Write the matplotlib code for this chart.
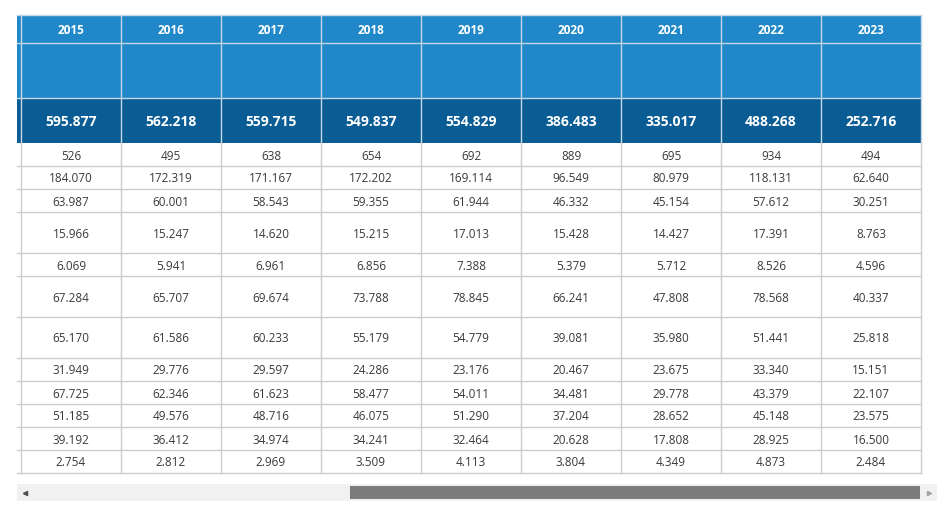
import matplotlib
matplotlib.use('Agg')
import matplotlib.pyplot as plt
from matplotlib.patches import Rectangle

plt.rcParams['font.family'] = ['Open Sans', 'DejaVu Sans']

years = ['2015', '2016', '2017', '2018', '2019', '2020', '2021', '2022', '2023']
totals = ['595.877', '562.218', '559.715', '549.837', '554.829', '386.483', '335.017', '488.268', '252.716']

row01 = ['526', '495', '638', '654', '692', '889', '695', '934', '494']
row02 = ['184.070', '172.319', '171.167', '172.202', '169.114', '96.549', '80.979', '118.131', '62.640']
row03 = ['63.987', '60.001', '58.543', '59.355', '61.944', '46.332', '45.154', '57.612', '30.251']
row04 = ['15.966', '15.247', '14.620', '15.215', '17.013', '15.428', '14.427', '17.391', '8.763']
row05 = ['6.069', '5.941', '6.961', '6.856', '7.388', '5.379', '5.712', '8.526', '4.596']
row06 = ['67.284', '65.707', '69.674', '73.788', '78.845', '66.241', '47.808', '78.568', '40.337']
row07 = ['65.170', '61.586', '60.233', '55.179', '54.779', '39.081', '35.980', '51.441', '25.818']
row08 = ['31.949', '29.776', '29.597', '24.286', '23.176', '20.467', '23.675', '33.340', '15.151']
row09 = ['67.725', '62.346', '61.623', '58.477', '54.011', '34.481', '29.778', '43.379', '22.107']
row10 = ['51.185', '49.576', '48.716', '46.075', '51.290', '37.204', '28.652', '45.148', '23.575']
row11 = ['39.192', '36.412', '34.974', '34.241', '32.464', '20.628', '17.808', '28.925', '16.500']
row12 = ['2.754', '2.812', '2.969', '3.509', '4.113', '3.804', '4.349', '4.873', '2.484']
rows = [row01, row02, row03, row04, row05, row06, row07, row08, row09, row10, row11, row12]

# layout in pixels
x_left = 17
x0 = 21
col_w = 100.0
y_top = 15
y_head = 43
y_blank = 98
y_total = 143
row_edges = [143, 166, 189, 212, 253, 276, 317, 358, 381, 404, 427, 450, 473]
dy = 1.5  # nudge text down a bit

light_blue = '#2088c8'
dark_blue = '#0a5c94'
grid = '#cccccc'
text_col = '#3a3a3a'

fig = plt.figure(figsize=(9.52, 5.16), dpi=100)
ax = fig.add_axes([0, 0, 1, 1])
ax.set_xlim(0, 952)
ax.set_ylim(516, 0)
ax.axis('off')

x_right = x0 + col_w * len(years)

# header background
ax.add_patch(Rectangle((x_left, y_top), x_right - x_left, y_blank - y_top, color=light_blue, lw=0))
ax.add_patch(Rectangle((x_left, y_blank), x_right - x_left, y_total - y_blank, color=dark_blue, lw=0))

# horizontal lines
for y in [y_top, y_head, y_blank]:
    ax.plot([x_left, x_right], [y, y], color='#c6d6e4', lw=1)
for y in row_edges[1:]:
    ax.plot([x_left, x_right], [y, y], color=grid, lw=1)

# vertical lines
for i in range(len(years) + 1):
    x = x0 + col_w * i
    ax.plot([x, x], [y_top, y_total], color='#c6d6e4', lw=1)
    ax.plot([x, x], [y_total, row_edges[-1]], color=grid, lw=1)

# header texts
for i, yr in enumerate(years):
    cx = x0 + col_w * (i + 0.5)
    ax.text(cx, (y_top + y_head) / 2 + dy, yr, color='white', fontsize=8.5, fontweight='bold',
            ha='center', va='center')
    ax.text(cx, (y_blank + y_total) / 2 + dy, totals[i], color='white', fontsize=10, fontweight='bold',
            ha='center', va='center')

# body texts
for r, vals in enumerate(rows):
    cy = (row_edges[r] + row_edges[r + 1]) / 2 + dy
    for i, v in enumerate(vals):
        cx = x0 + col_w * (i + 0.5)
        ax.text(cx, cy, v, color=text_col, fontsize=8.5, ha='center', va='center')

# scrollbar
ax.add_patch(Rectangle((17, 484), 920, 17, color='#f1f1f1', lw=0))
ax.add_patch(Rectangle((350, 486), 570, 12.5, color='#7b7b7b', lw=0))
ax.plot([25], [492.5], marker='<', color='#505050', markersize=3)
ax.plot([929], [492.5], marker='>', color='#a3a3a3', markersize=3)

fig.savefig('out.png', dpi=100)
